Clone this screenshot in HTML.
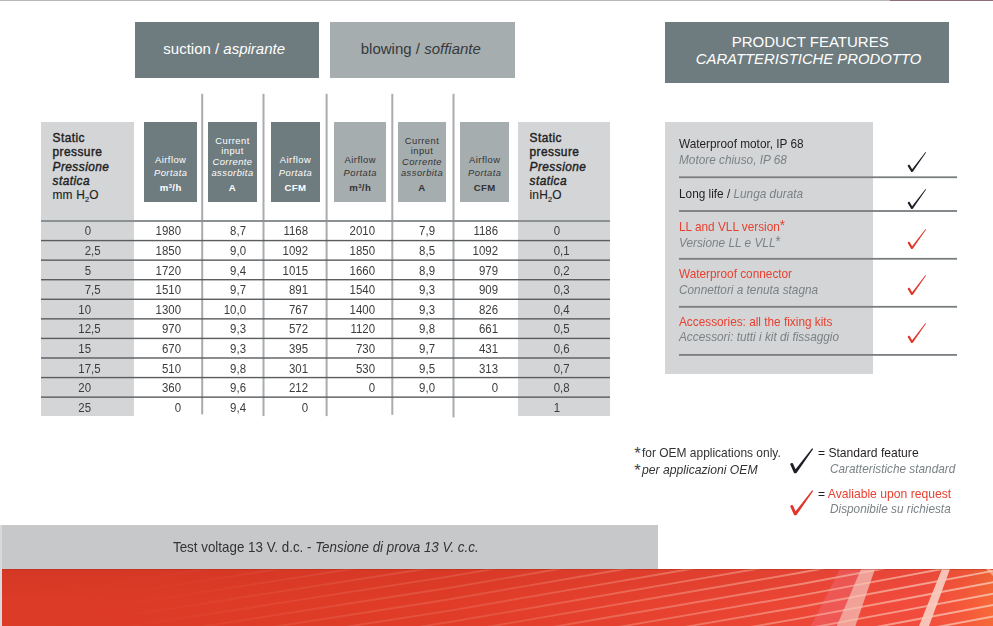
<!DOCTYPE html>
<html><head><meta charset="utf-8"><style>
html,body{margin:0;padding:0;background:#fff;}
body{width:993px;height:626px;position:relative;overflow:hidden;font-family:"Liberation Sans",sans-serif;}
.t{position:absolute;white-space:nowrap;}
.r{position:absolute;}
sup{font-size:0.6em;vertical-align:0;position:relative;top:-0.5em;}
sub{font-size:0.62em;vertical-align:0;position:relative;top:0.42em;}
b{font-weight:bold;}
</style></head><body>
<div class="r" style="left:0px;top:0px;width:890px;height:1px;background:#b6b9bb;"></div>
<div class="r" style="left:890px;top:0px;width:103px;height:1px;background:#8f6e76;"></div>
<div class="r" style="left:135px;top:22px;width:184px;height:56px;background:#6e7c80;"></div>
<div class="r" style="left:330px;top:22px;width:185px;height:56px;background:#a6adaf;"></div>
<div class="t" style="left:74.20px;width:300px;text-align:center;top:41.20px;font-size:15px;line-height:15px;color:#fff;">suction / <i>aspirante</i></div>
<div class="t" style="left:270.80px;width:300px;text-align:center;top:41.20px;font-size:15px;line-height:15px;color:#353a3d;">blowing / <i>soffiante</i></div>
<div class="r" style="left:665px;top:22px;width:283.5px;height:61px;background:#6e7c80;"></div>
<div class="t" style="left:660.20px;width:300px;text-align:center;top:33.80px;font-size:15px;line-height:15px;color:#fff;">PRODUCT FEATURES</div>
<div class="t" style="left:658.50px;width:300px;text-align:center;top:52.03px;font-size:14.85px;line-height:14.85px;color:#fff;"><i>CARATTERISTICHE PRODOTTO</i></div>
<div class="r" style="left:41px;top:122px;width:92.5px;height:294px;background:#d4d5d7;"></div>
<div class="r" style="left:518px;top:122px;width:92px;height:294px;background:#d4d5d7;"></div>
<div class="r" style="left:144.3px;top:122px;width:52.29999999999998px;height:79.5px;background:#6e7c80;"></div>
<div class="t" style="left:140.70px;width:60px;text-align:center;top:154.94px;font-size:9.4px;line-height:9.4px;color:#fff;letter-spacing:0.45px;">Airflow</div>
<div class="t" style="left:140.70px;width:60px;text-align:center;top:167.74px;font-size:9.4px;line-height:9.4px;color:#fff;letter-spacing:0.45px;"><i>Portata</i></div>
<div class="t" style="left:140.70px;width:60px;text-align:center;top:182.87px;font-size:9.6px;line-height:9.6px;color:#fff;letter-spacing:0.45px;"><b>m<sup>3</sup>/h</b></div>
<div class="r" style="left:208px;top:122px;width:48.5px;height:79.5px;background:#6e7c80;"></div>
<div class="t" style="left:202.50px;width:60px;text-align:center;top:136.04px;font-size:9.4px;line-height:9.4px;color:#fff;letter-spacing:0.45px;">Current</div>
<div class="t" style="left:202.50px;width:60px;text-align:center;top:146.04px;font-size:9.4px;line-height:9.4px;color:#fff;letter-spacing:0.45px;">input</div>
<div class="t" style="left:202.50px;width:60px;text-align:center;top:157.24px;font-size:9.4px;line-height:9.4px;color:#fff;letter-spacing:0.45px;"><i>Corrente</i></div>
<div class="t" style="left:202.50px;width:60px;text-align:center;top:167.74px;font-size:9.4px;line-height:9.4px;color:#fff;letter-spacing:0.45px;"><i>assorbita</i></div>
<div class="t" style="left:202.50px;width:60px;text-align:center;top:182.87px;font-size:9.6px;line-height:9.6px;color:#fff;letter-spacing:0.45px;"><b>A</b></div>
<div class="r" style="left:271px;top:122px;width:48.5px;height:79.5px;background:#6e7c80;"></div>
<div class="t" style="left:265.50px;width:60px;text-align:center;top:154.94px;font-size:9.4px;line-height:9.4px;color:#fff;letter-spacing:0.45px;">Airflow</div>
<div class="t" style="left:265.50px;width:60px;text-align:center;top:167.74px;font-size:9.4px;line-height:9.4px;color:#fff;letter-spacing:0.45px;"><i>Portata</i></div>
<div class="t" style="left:265.50px;width:60px;text-align:center;top:182.87px;font-size:9.6px;line-height:9.6px;color:#fff;letter-spacing:0.45px;"><b>CFM</b></div>
<div class="r" style="left:334px;top:122px;width:52px;height:79.5px;background:#a6adaf;"></div>
<div class="t" style="left:330.25px;width:60px;text-align:center;top:154.94px;font-size:9.4px;line-height:9.4px;color:#333;letter-spacing:0.45px;">Airflow</div>
<div class="t" style="left:330.25px;width:60px;text-align:center;top:167.74px;font-size:9.4px;line-height:9.4px;color:#333;letter-spacing:0.45px;"><i>Portata</i></div>
<div class="t" style="left:330.25px;width:60px;text-align:center;top:182.87px;font-size:9.6px;line-height:9.6px;color:#333;letter-spacing:0.45px;"><b>m<sup>3</sup>/h</b></div>
<div class="r" style="left:397.5px;top:122px;width:48.5px;height:79.5px;background:#a6adaf;"></div>
<div class="t" style="left:392.00px;width:60px;text-align:center;top:136.04px;font-size:9.4px;line-height:9.4px;color:#333;letter-spacing:0.45px;">Current</div>
<div class="t" style="left:392.00px;width:60px;text-align:center;top:146.04px;font-size:9.4px;line-height:9.4px;color:#333;letter-spacing:0.45px;">input</div>
<div class="t" style="left:392.00px;width:60px;text-align:center;top:157.24px;font-size:9.4px;line-height:9.4px;color:#333;letter-spacing:0.45px;"><i>Corrente</i></div>
<div class="t" style="left:392.00px;width:60px;text-align:center;top:167.74px;font-size:9.4px;line-height:9.4px;color:#333;letter-spacing:0.45px;"><i>assorbita</i></div>
<div class="t" style="left:392.00px;width:60px;text-align:center;top:182.87px;font-size:9.6px;line-height:9.6px;color:#333;letter-spacing:0.45px;"><b>A</b></div>
<div class="r" style="left:460.2px;top:122px;width:48.60000000000002px;height:79.5px;background:#a6adaf;"></div>
<div class="t" style="left:454.75px;width:60px;text-align:center;top:154.94px;font-size:9.4px;line-height:9.4px;color:#333;letter-spacing:0.45px;">Airflow</div>
<div class="t" style="left:454.75px;width:60px;text-align:center;top:167.74px;font-size:9.4px;line-height:9.4px;color:#333;letter-spacing:0.45px;"><i>Portata</i></div>
<div class="t" style="left:454.75px;width:60px;text-align:center;top:182.87px;font-size:9.6px;line-height:9.6px;color:#333;letter-spacing:0.45px;"><b>CFM</b></div>
<div class="t" style="left:52.50px;top:132.93px;font-size:11.9px;line-height:11.9px;color:#222;-webkit-text-stroke:0.4px #222;letter-spacing:0.45px;">Static</div>
<div class="t" style="left:52.50px;top:147.33px;font-size:11.9px;line-height:11.9px;color:#222;-webkit-text-stroke:0.4px #222;letter-spacing:0.45px;">pressure</div>
<div class="t" style="left:52.50px;top:161.93px;font-size:11.9px;line-height:11.9px;color:#222;-webkit-text-stroke:0.4px #222;letter-spacing:0.45px;font-style:italic;">Pressione</div>
<div class="t" style="left:52.50px;top:176.33px;font-size:11.9px;line-height:11.9px;color:#222;-webkit-text-stroke:0.4px #222;letter-spacing:0.45px;font-style:italic;">statica</div>
<div class="t" style="left:52.50px;top:190.33px;font-size:11.9px;line-height:11.9px;color:#222;-webkit-text-stroke:0.15px #222;letter-spacing:0.2px;">mm H<sub>2</sub>O</div>
<div class="t" style="left:529.50px;top:132.93px;font-size:11.9px;line-height:11.9px;color:#222;-webkit-text-stroke:0.4px #222;letter-spacing:0.45px;">Static</div>
<div class="t" style="left:529.50px;top:147.33px;font-size:11.9px;line-height:11.9px;color:#222;-webkit-text-stroke:0.4px #222;letter-spacing:0.45px;">pressure</div>
<div class="t" style="left:529.50px;top:161.93px;font-size:11.9px;line-height:11.9px;color:#222;-webkit-text-stroke:0.4px #222;letter-spacing:0.45px;font-style:italic;">Pressione</div>
<div class="t" style="left:529.50px;top:176.33px;font-size:11.9px;line-height:11.9px;color:#222;-webkit-text-stroke:0.4px #222;letter-spacing:0.45px;font-style:italic;">statica</div>
<div class="t" style="left:529.50px;top:190.33px;font-size:11.9px;line-height:11.9px;color:#222;-webkit-text-stroke:0.15px #222;letter-spacing:0.2px;">inH<sub>2</sub>O</div>
<svg class="r" style="left:0;top:0" width="993" height="626" viewBox="0 0 993 626">
<rect x="201.2" y="93.8" width="2" height="320.5" fill="#a9abad"/>
<rect x="262.5" y="93.8" width="2" height="322.3" fill="#a9abad"/>
<rect x="325.6" y="93.8" width="2" height="322.3" fill="#a9abad"/>
<rect x="391.3" y="93.8" width="2" height="321.0" fill="#a9abad"/>
<rect x="452.5" y="93.8" width="2" height="323.6" fill="#a9abad"/>
<rect x="41" y="220" width="569" height="2" fill="#8c9194"/>
<rect x="41" y="239.87" width="569" height="1.4" fill="#5a5c5e"/>
<rect x="41" y="259.44" width="569" height="1.4" fill="#5a5c5e"/>
<rect x="41" y="279.01" width="569" height="1.4" fill="#5a5c5e"/>
<rect x="41" y="298.58" width="569" height="1.4" fill="#5a5c5e"/>
<rect x="41" y="318.15" width="569" height="1.4" fill="#5a5c5e"/>
<rect x="41" y="337.72" width="569" height="1.4" fill="#5a5c5e"/>
<rect x="41" y="357.29" width="569" height="1.4" fill="#5a5c5e"/>
<rect x="41" y="376.86" width="569" height="1.4" fill="#5a5c5e"/>
<rect x="41" y="396.43" width="569" height="1.4" fill="#5a5c5e"/>
</svg>
<div class="t" style="left:51.20px;width:40px;text-align:right;top:225.49px;font-size:12.3px;line-height:12.3px;color:#3c3c3c;transform:scaleX(0.93);transform-origin:100% 50%;">0</div>
<div class="t" style="left:140.90px;width:40px;text-align:right;top:225.49px;font-size:12.3px;line-height:12.3px;color:#3c3c3c;transform:scaleX(0.93);transform-origin:100% 50%;">1980</div>
<div class="t" style="left:206.00px;width:40px;text-align:right;top:225.49px;font-size:12.3px;line-height:12.3px;color:#3c3c3c;transform:scaleX(0.93);transform-origin:100% 50%;">8,7</div>
<div class="t" style="left:267.60px;width:40px;text-align:right;top:225.49px;font-size:12.3px;line-height:12.3px;color:#3c3c3c;transform:scaleX(0.93);transform-origin:100% 50%;">1168</div>
<div class="t" style="left:334.60px;width:40px;text-align:right;top:225.49px;font-size:12.3px;line-height:12.3px;color:#3c3c3c;transform:scaleX(0.93);transform-origin:100% 50%;">2010</div>
<div class="t" style="left:394.90px;width:40px;text-align:right;top:225.49px;font-size:12.3px;line-height:12.3px;color:#3c3c3c;transform:scaleX(0.93);transform-origin:100% 50%;">7,9</div>
<div class="t" style="left:458.10px;width:40px;text-align:right;top:225.49px;font-size:12.3px;line-height:12.3px;color:#3c3c3c;transform:scaleX(0.93);transform-origin:100% 50%;">1186</div>
<div class="t" style="left:519.50px;width:40px;text-align:right;top:225.49px;font-size:12.3px;line-height:12.3px;color:#3c3c3c;transform:scaleX(0.93);transform-origin:100% 50%;">0</div>
<div class="t" style="left:51.20px;width:40px;text-align:right;top:245.09px;font-size:12.3px;line-height:12.3px;color:#3c3c3c;transform:scaleX(0.93);transform-origin:100% 50%;">2</div>
<div class="t" style="left:91.20px;top:245.09px;font-size:12.3px;line-height:12.3px;color:#3c3c3c;transform:scaleX(0.93);transform-origin:0% 50%;">,5</div>
<div class="t" style="left:140.90px;width:40px;text-align:right;top:245.09px;font-size:12.3px;line-height:12.3px;color:#3c3c3c;transform:scaleX(0.93);transform-origin:100% 50%;">1850</div>
<div class="t" style="left:206.00px;width:40px;text-align:right;top:245.09px;font-size:12.3px;line-height:12.3px;color:#3c3c3c;transform:scaleX(0.93);transform-origin:100% 50%;">9,0</div>
<div class="t" style="left:267.60px;width:40px;text-align:right;top:245.09px;font-size:12.3px;line-height:12.3px;color:#3c3c3c;transform:scaleX(0.93);transform-origin:100% 50%;">1092</div>
<div class="t" style="left:334.60px;width:40px;text-align:right;top:245.09px;font-size:12.3px;line-height:12.3px;color:#3c3c3c;transform:scaleX(0.93);transform-origin:100% 50%;">1850</div>
<div class="t" style="left:394.90px;width:40px;text-align:right;top:245.09px;font-size:12.3px;line-height:12.3px;color:#3c3c3c;transform:scaleX(0.93);transform-origin:100% 50%;">8,5</div>
<div class="t" style="left:458.10px;width:40px;text-align:right;top:245.09px;font-size:12.3px;line-height:12.3px;color:#3c3c3c;transform:scaleX(0.93);transform-origin:100% 50%;">1092</div>
<div class="t" style="left:519.50px;width:40px;text-align:right;top:245.09px;font-size:12.3px;line-height:12.3px;color:#3c3c3c;transform:scaleX(0.93);transform-origin:100% 50%;">0</div>
<div class="t" style="left:559.50px;top:245.09px;font-size:12.3px;line-height:12.3px;color:#3c3c3c;transform:scaleX(0.93);transform-origin:0% 50%;">,1</div>
<div class="t" style="left:51.20px;width:40px;text-align:right;top:264.69px;font-size:12.3px;line-height:12.3px;color:#3c3c3c;transform:scaleX(0.93);transform-origin:100% 50%;">5</div>
<div class="t" style="left:140.90px;width:40px;text-align:right;top:264.69px;font-size:12.3px;line-height:12.3px;color:#3c3c3c;transform:scaleX(0.93);transform-origin:100% 50%;">1720</div>
<div class="t" style="left:206.00px;width:40px;text-align:right;top:264.69px;font-size:12.3px;line-height:12.3px;color:#3c3c3c;transform:scaleX(0.93);transform-origin:100% 50%;">9,4</div>
<div class="t" style="left:267.60px;width:40px;text-align:right;top:264.69px;font-size:12.3px;line-height:12.3px;color:#3c3c3c;transform:scaleX(0.93);transform-origin:100% 50%;">1015</div>
<div class="t" style="left:334.60px;width:40px;text-align:right;top:264.69px;font-size:12.3px;line-height:12.3px;color:#3c3c3c;transform:scaleX(0.93);transform-origin:100% 50%;">1660</div>
<div class="t" style="left:394.90px;width:40px;text-align:right;top:264.69px;font-size:12.3px;line-height:12.3px;color:#3c3c3c;transform:scaleX(0.93);transform-origin:100% 50%;">8,9</div>
<div class="t" style="left:458.10px;width:40px;text-align:right;top:264.69px;font-size:12.3px;line-height:12.3px;color:#3c3c3c;transform:scaleX(0.93);transform-origin:100% 50%;">979</div>
<div class="t" style="left:519.50px;width:40px;text-align:right;top:264.69px;font-size:12.3px;line-height:12.3px;color:#3c3c3c;transform:scaleX(0.93);transform-origin:100% 50%;">0</div>
<div class="t" style="left:559.50px;top:264.69px;font-size:12.3px;line-height:12.3px;color:#3c3c3c;transform:scaleX(0.93);transform-origin:0% 50%;">,2</div>
<div class="t" style="left:51.20px;width:40px;text-align:right;top:284.29px;font-size:12.3px;line-height:12.3px;color:#3c3c3c;transform:scaleX(0.93);transform-origin:100% 50%;">7</div>
<div class="t" style="left:91.20px;top:284.29px;font-size:12.3px;line-height:12.3px;color:#3c3c3c;transform:scaleX(0.93);transform-origin:0% 50%;">,5</div>
<div class="t" style="left:140.90px;width:40px;text-align:right;top:284.29px;font-size:12.3px;line-height:12.3px;color:#3c3c3c;transform:scaleX(0.93);transform-origin:100% 50%;">1510</div>
<div class="t" style="left:206.00px;width:40px;text-align:right;top:284.29px;font-size:12.3px;line-height:12.3px;color:#3c3c3c;transform:scaleX(0.93);transform-origin:100% 50%;">9,7</div>
<div class="t" style="left:267.60px;width:40px;text-align:right;top:284.29px;font-size:12.3px;line-height:12.3px;color:#3c3c3c;transform:scaleX(0.93);transform-origin:100% 50%;">891</div>
<div class="t" style="left:334.60px;width:40px;text-align:right;top:284.29px;font-size:12.3px;line-height:12.3px;color:#3c3c3c;transform:scaleX(0.93);transform-origin:100% 50%;">1540</div>
<div class="t" style="left:394.90px;width:40px;text-align:right;top:284.29px;font-size:12.3px;line-height:12.3px;color:#3c3c3c;transform:scaleX(0.93);transform-origin:100% 50%;">9,3</div>
<div class="t" style="left:458.10px;width:40px;text-align:right;top:284.29px;font-size:12.3px;line-height:12.3px;color:#3c3c3c;transform:scaleX(0.93);transform-origin:100% 50%;">909</div>
<div class="t" style="left:519.50px;width:40px;text-align:right;top:284.29px;font-size:12.3px;line-height:12.3px;color:#3c3c3c;transform:scaleX(0.93);transform-origin:100% 50%;">0</div>
<div class="t" style="left:559.50px;top:284.29px;font-size:12.3px;line-height:12.3px;color:#3c3c3c;transform:scaleX(0.93);transform-origin:0% 50%;">,3</div>
<div class="t" style="left:51.20px;width:40px;text-align:right;top:303.89px;font-size:12.3px;line-height:12.3px;color:#3c3c3c;transform:scaleX(0.93);transform-origin:100% 50%;">10</div>
<div class="t" style="left:140.90px;width:40px;text-align:right;top:303.89px;font-size:12.3px;line-height:12.3px;color:#3c3c3c;transform:scaleX(0.93);transform-origin:100% 50%;">1300</div>
<div class="t" style="left:206.00px;width:40px;text-align:right;top:303.89px;font-size:12.3px;line-height:12.3px;color:#3c3c3c;transform:scaleX(0.93);transform-origin:100% 50%;">10,0</div>
<div class="t" style="left:267.60px;width:40px;text-align:right;top:303.89px;font-size:12.3px;line-height:12.3px;color:#3c3c3c;transform:scaleX(0.93);transform-origin:100% 50%;">767</div>
<div class="t" style="left:334.60px;width:40px;text-align:right;top:303.89px;font-size:12.3px;line-height:12.3px;color:#3c3c3c;transform:scaleX(0.93);transform-origin:100% 50%;">1400</div>
<div class="t" style="left:394.90px;width:40px;text-align:right;top:303.89px;font-size:12.3px;line-height:12.3px;color:#3c3c3c;transform:scaleX(0.93);transform-origin:100% 50%;">9,3</div>
<div class="t" style="left:458.10px;width:40px;text-align:right;top:303.89px;font-size:12.3px;line-height:12.3px;color:#3c3c3c;transform:scaleX(0.93);transform-origin:100% 50%;">826</div>
<div class="t" style="left:519.50px;width:40px;text-align:right;top:303.89px;font-size:12.3px;line-height:12.3px;color:#3c3c3c;transform:scaleX(0.93);transform-origin:100% 50%;">0</div>
<div class="t" style="left:559.50px;top:303.89px;font-size:12.3px;line-height:12.3px;color:#3c3c3c;transform:scaleX(0.93);transform-origin:0% 50%;">,4</div>
<div class="t" style="left:51.20px;width:40px;text-align:right;top:323.49px;font-size:12.3px;line-height:12.3px;color:#3c3c3c;transform:scaleX(0.93);transform-origin:100% 50%;">12</div>
<div class="t" style="left:91.20px;top:323.49px;font-size:12.3px;line-height:12.3px;color:#3c3c3c;transform:scaleX(0.93);transform-origin:0% 50%;">,5</div>
<div class="t" style="left:140.90px;width:40px;text-align:right;top:323.49px;font-size:12.3px;line-height:12.3px;color:#3c3c3c;transform:scaleX(0.93);transform-origin:100% 50%;">970</div>
<div class="t" style="left:206.00px;width:40px;text-align:right;top:323.49px;font-size:12.3px;line-height:12.3px;color:#3c3c3c;transform:scaleX(0.93);transform-origin:100% 50%;">9,3</div>
<div class="t" style="left:267.60px;width:40px;text-align:right;top:323.49px;font-size:12.3px;line-height:12.3px;color:#3c3c3c;transform:scaleX(0.93);transform-origin:100% 50%;">572</div>
<div class="t" style="left:334.60px;width:40px;text-align:right;top:323.49px;font-size:12.3px;line-height:12.3px;color:#3c3c3c;transform:scaleX(0.93);transform-origin:100% 50%;">1120</div>
<div class="t" style="left:394.90px;width:40px;text-align:right;top:323.49px;font-size:12.3px;line-height:12.3px;color:#3c3c3c;transform:scaleX(0.93);transform-origin:100% 50%;">9,8</div>
<div class="t" style="left:458.10px;width:40px;text-align:right;top:323.49px;font-size:12.3px;line-height:12.3px;color:#3c3c3c;transform:scaleX(0.93);transform-origin:100% 50%;">661</div>
<div class="t" style="left:519.50px;width:40px;text-align:right;top:323.49px;font-size:12.3px;line-height:12.3px;color:#3c3c3c;transform:scaleX(0.93);transform-origin:100% 50%;">0</div>
<div class="t" style="left:559.50px;top:323.49px;font-size:12.3px;line-height:12.3px;color:#3c3c3c;transform:scaleX(0.93);transform-origin:0% 50%;">,5</div>
<div class="t" style="left:51.20px;width:40px;text-align:right;top:343.09px;font-size:12.3px;line-height:12.3px;color:#3c3c3c;transform:scaleX(0.93);transform-origin:100% 50%;">15</div>
<div class="t" style="left:140.90px;width:40px;text-align:right;top:343.09px;font-size:12.3px;line-height:12.3px;color:#3c3c3c;transform:scaleX(0.93);transform-origin:100% 50%;">670</div>
<div class="t" style="left:206.00px;width:40px;text-align:right;top:343.09px;font-size:12.3px;line-height:12.3px;color:#3c3c3c;transform:scaleX(0.93);transform-origin:100% 50%;">9,3</div>
<div class="t" style="left:267.60px;width:40px;text-align:right;top:343.09px;font-size:12.3px;line-height:12.3px;color:#3c3c3c;transform:scaleX(0.93);transform-origin:100% 50%;">395</div>
<div class="t" style="left:334.60px;width:40px;text-align:right;top:343.09px;font-size:12.3px;line-height:12.3px;color:#3c3c3c;transform:scaleX(0.93);transform-origin:100% 50%;">730</div>
<div class="t" style="left:394.90px;width:40px;text-align:right;top:343.09px;font-size:12.3px;line-height:12.3px;color:#3c3c3c;transform:scaleX(0.93);transform-origin:100% 50%;">9,7</div>
<div class="t" style="left:458.10px;width:40px;text-align:right;top:343.09px;font-size:12.3px;line-height:12.3px;color:#3c3c3c;transform:scaleX(0.93);transform-origin:100% 50%;">431</div>
<div class="t" style="left:519.50px;width:40px;text-align:right;top:343.09px;font-size:12.3px;line-height:12.3px;color:#3c3c3c;transform:scaleX(0.93);transform-origin:100% 50%;">0</div>
<div class="t" style="left:559.50px;top:343.09px;font-size:12.3px;line-height:12.3px;color:#3c3c3c;transform:scaleX(0.93);transform-origin:0% 50%;">,6</div>
<div class="t" style="left:51.20px;width:40px;text-align:right;top:362.69px;font-size:12.3px;line-height:12.3px;color:#3c3c3c;transform:scaleX(0.93);transform-origin:100% 50%;">17</div>
<div class="t" style="left:91.20px;top:362.69px;font-size:12.3px;line-height:12.3px;color:#3c3c3c;transform:scaleX(0.93);transform-origin:0% 50%;">,5</div>
<div class="t" style="left:140.90px;width:40px;text-align:right;top:362.69px;font-size:12.3px;line-height:12.3px;color:#3c3c3c;transform:scaleX(0.93);transform-origin:100% 50%;">510</div>
<div class="t" style="left:206.00px;width:40px;text-align:right;top:362.69px;font-size:12.3px;line-height:12.3px;color:#3c3c3c;transform:scaleX(0.93);transform-origin:100% 50%;">9,8</div>
<div class="t" style="left:267.60px;width:40px;text-align:right;top:362.69px;font-size:12.3px;line-height:12.3px;color:#3c3c3c;transform:scaleX(0.93);transform-origin:100% 50%;">301</div>
<div class="t" style="left:334.60px;width:40px;text-align:right;top:362.69px;font-size:12.3px;line-height:12.3px;color:#3c3c3c;transform:scaleX(0.93);transform-origin:100% 50%;">530</div>
<div class="t" style="left:394.90px;width:40px;text-align:right;top:362.69px;font-size:12.3px;line-height:12.3px;color:#3c3c3c;transform:scaleX(0.93);transform-origin:100% 50%;">9,5</div>
<div class="t" style="left:458.10px;width:40px;text-align:right;top:362.69px;font-size:12.3px;line-height:12.3px;color:#3c3c3c;transform:scaleX(0.93);transform-origin:100% 50%;">313</div>
<div class="t" style="left:519.50px;width:40px;text-align:right;top:362.69px;font-size:12.3px;line-height:12.3px;color:#3c3c3c;transform:scaleX(0.93);transform-origin:100% 50%;">0</div>
<div class="t" style="left:559.50px;top:362.69px;font-size:12.3px;line-height:12.3px;color:#3c3c3c;transform:scaleX(0.93);transform-origin:0% 50%;">,7</div>
<div class="t" style="left:51.20px;width:40px;text-align:right;top:382.29px;font-size:12.3px;line-height:12.3px;color:#3c3c3c;transform:scaleX(0.93);transform-origin:100% 50%;">20</div>
<div class="t" style="left:140.90px;width:40px;text-align:right;top:382.29px;font-size:12.3px;line-height:12.3px;color:#3c3c3c;transform:scaleX(0.93);transform-origin:100% 50%;">360</div>
<div class="t" style="left:206.00px;width:40px;text-align:right;top:382.29px;font-size:12.3px;line-height:12.3px;color:#3c3c3c;transform:scaleX(0.93);transform-origin:100% 50%;">9,6</div>
<div class="t" style="left:267.60px;width:40px;text-align:right;top:382.29px;font-size:12.3px;line-height:12.3px;color:#3c3c3c;transform:scaleX(0.93);transform-origin:100% 50%;">212</div>
<div class="t" style="left:334.60px;width:40px;text-align:right;top:382.29px;font-size:12.3px;line-height:12.3px;color:#3c3c3c;transform:scaleX(0.93);transform-origin:100% 50%;">0</div>
<div class="t" style="left:394.90px;width:40px;text-align:right;top:382.29px;font-size:12.3px;line-height:12.3px;color:#3c3c3c;transform:scaleX(0.93);transform-origin:100% 50%;">9,0</div>
<div class="t" style="left:458.10px;width:40px;text-align:right;top:382.29px;font-size:12.3px;line-height:12.3px;color:#3c3c3c;transform:scaleX(0.93);transform-origin:100% 50%;">0</div>
<div class="t" style="left:519.50px;width:40px;text-align:right;top:382.29px;font-size:12.3px;line-height:12.3px;color:#3c3c3c;transform:scaleX(0.93);transform-origin:100% 50%;">0</div>
<div class="t" style="left:559.50px;top:382.29px;font-size:12.3px;line-height:12.3px;color:#3c3c3c;transform:scaleX(0.93);transform-origin:0% 50%;">,8</div>
<div class="t" style="left:51.20px;width:40px;text-align:right;top:401.89px;font-size:12.3px;line-height:12.3px;color:#3c3c3c;transform:scaleX(0.93);transform-origin:100% 50%;">25</div>
<div class="t" style="left:140.90px;width:40px;text-align:right;top:401.89px;font-size:12.3px;line-height:12.3px;color:#3c3c3c;transform:scaleX(0.93);transform-origin:100% 50%;">0</div>
<div class="t" style="left:206.00px;width:40px;text-align:right;top:401.89px;font-size:12.3px;line-height:12.3px;color:#3c3c3c;transform:scaleX(0.93);transform-origin:100% 50%;">9,4</div>
<div class="t" style="left:267.60px;width:40px;text-align:right;top:401.89px;font-size:12.3px;line-height:12.3px;color:#3c3c3c;transform:scaleX(0.93);transform-origin:100% 50%;">0</div>
<div class="t" style="left:519.50px;width:40px;text-align:right;top:401.89px;font-size:12.3px;line-height:12.3px;color:#3c3c3c;transform:scaleX(0.93);transform-origin:100% 50%;">1</div>
<div class="r" style="left:665px;top:122px;width:208px;height:252px;background:#d4d5d7;"></div>
<svg class="r" style="left:0;top:0" width="993" height="626"><rect x="679" y="176.35" width="278" height="1.8" fill="#7b7e81"/><rect x="679" y="210.10" width="278" height="1.8" fill="#7b7e81"/><rect x="679" y="257.90" width="278" height="1.8" fill="#7b7e81"/><rect x="679" y="305.90" width="278" height="1.8" fill="#7b7e81"/><rect x="679" y="354.00" width="278" height="1.8" fill="#7b7e81"/></svg>
<div class="t" style="left:679.30px;top:137.13px;font-size:13.2px;line-height:13.2px;color:#231f20;transform:scaleX(0.895);transform-origin:0 50%;">Waterproof motor, IP 68</div>
<div class="t" style="left:679.30px;top:152.93px;font-size:13.2px;line-height:13.2px;color:#7a8286;transform:scaleX(0.895);transform-origin:0 50%;"><i>Motore chiuso, IP 68</i></div>
<div class="t" style="left:679.30px;top:187.33px;font-size:13.2px;line-height:13.2px;color:#231f20;transform:scaleX(0.895);transform-origin:0 50%;">Long life / <i style="color:#7a8286">Lunga durata</i></div>
<div class="t" style="left:679.30px;top:219.23px;font-size:13.2px;line-height:13.2px;color:#e8402f;transform:scaleX(0.895);transform-origin:0 50%;">LL and VLL version<span style="font-size:15px;position:relative;top:-1px">*</span></div>
<div class="t" style="left:679.30px;top:235.23px;font-size:13.2px;line-height:13.2px;color:#7a8286;transform:scaleX(0.895);transform-origin:0 50%;"><i>Versione LL e VLL</i><span style="font-size:15px;position:relative;top:-1px">*</span></div>
<div class="t" style="left:679.30px;top:266.93px;font-size:13.2px;line-height:13.2px;color:#e8402f;transform:scaleX(0.895);transform-origin:0 50%;">Waterproof connector</div>
<div class="t" style="left:679.30px;top:282.63px;font-size:13.2px;line-height:13.2px;color:#7a8286;transform:scaleX(0.895);transform-origin:0 50%;"><i>Connettori a tenuta stagna</i></div>
<div class="t" style="left:679.30px;top:314.63px;font-size:13.2px;line-height:13.2px;color:#e8402f;transform:scaleX(0.895);transform-origin:0 50%;">Accessories: all the fixing kits</div>
<div class="t" style="left:679.30px;top:330.43px;font-size:13.2px;line-height:13.2px;color:#7a8286;transform:scaleX(0.895);transform-origin:0 50%;"><i>Accessori: tutti i kit di fissaggio</i></div>
<svg class="r" style="left:907px;top:151px" width="20.00" height="22.00" viewBox="0 0 20 22"><path d="M0.69 14.93 Q0.99 13.36 2.51 13.87 L5.12 18.33 L18.52 1.09 L19.08 1.51 L5.81 20.79 L5.10 21.10 L4.25 20.99 Z" fill="#1e1e26"/></svg>
<svg class="r" style="left:907px;top:187.8px" width="20.00" height="22.00" viewBox="0 0 20 22"><path d="M0.69 14.93 Q0.99 13.36 2.51 13.87 L5.12 18.33 L18.52 1.09 L19.08 1.51 L5.81 20.79 L5.10 21.10 L4.25 20.99 Z" fill="#1e1e26"/></svg>
<svg class="r" style="left:907px;top:228px" width="20.00" height="22.00" viewBox="0 0 20 22"><path d="M0.69 14.93 Q0.99 13.36 2.51 13.87 L5.12 18.33 L18.52 1.09 L19.08 1.51 L5.81 20.79 L5.10 21.10 L4.25 20.99 Z" fill="#e0362c"/></svg>
<svg class="r" style="left:907px;top:273.8px" width="20.00" height="22.00" viewBox="0 0 20 22"><path d="M0.69 14.93 Q0.99 13.36 2.51 13.87 L5.12 18.33 L18.52 1.09 L19.08 1.51 L5.81 20.79 L5.10 21.10 L4.25 20.99 Z" fill="#e0362c"/></svg>
<svg class="r" style="left:907px;top:321.6px" width="20.00" height="22.00" viewBox="0 0 20 22"><path d="M0.69 14.93 Q0.99 13.36 2.51 13.87 L5.12 18.33 L18.52 1.09 L19.08 1.51 L5.81 20.79 L5.10 21.10 L4.25 20.99 Z" fill="#e0362c"/></svg>
<div class="t" style="left:634.30px;top:444.53px;font-size:16.5px;line-height:16.5px;color:#444;">*</div>
<div class="t" style="left:642.30px;top:446.33px;font-size:13.2px;line-height:13.2px;color:#333;transform:scaleX(0.907);transform-origin:0 50%;">for OEM applications only.</div>
<div class="t" style="left:634.30px;top:462.03px;font-size:16.5px;line-height:16.5px;color:#444;">*</div>
<div class="t" style="left:642.30px;top:463.43px;font-size:13.2px;line-height:13.2px;color:#333;transform:scaleX(0.922);transform-origin:0 50%;"><i>per applicazioni OEM</i></div>
<svg class="r" style="left:789px;top:447.3px" width="25.20" height="27.72" viewBox="0 0 20 22"><path d="M0.95 13.77 Q1.51 12.20 3.05 12.83 L5.22 17.68 L18.40 1.00 L19.20 1.60 L5.97 20.71 L5.10 20.90 L4.07 20.74 Z" fill="#1e1e26"/></svg>
<svg class="r" style="left:789px;top:488.6px" width="25.20" height="27.72" viewBox="0 0 20 22"><path d="M0.95 13.77 Q1.51 12.20 3.05 12.83 L5.22 17.68 L18.40 1.00 L19.20 1.60 L5.97 20.71 L5.10 20.90 L4.07 20.74 Z" fill="#e0362c"/></svg>
<div class="t" style="left:817.60px;top:446.33px;font-size:13.2px;line-height:13.2px;color:#231f20;transform:scaleX(0.918);transform-origin:0 50%;">= Standard feature</div>
<div class="t" style="left:830.40px;top:461.63px;font-size:13.2px;line-height:13.2px;color:#7a8286;transform:scaleX(0.895);transform-origin:0 50%;"><i>Caratteristiche standard</i></div>
<div class="t" style="left:817.60px;top:487.13px;font-size:13.2px;line-height:13.2px;color:#231f20;transform:scaleX(0.921);transform-origin:0 50%;">= <span style="color:#e8402f">Avaliable upon request</span></div>
<div class="t" style="left:830.40px;top:502.33px;font-size:13.2px;line-height:13.2px;color:#7a8286;transform:scaleX(0.895);transform-origin:0 50%;"><i>Disponibile su richiesta</i></div>
<div class="r" style="left:0px;top:524.5px;width:658px;height:44.5px;background:#c7c8ca;"></div>
<div class="r" style="left:0px;top:524.5px;width:2px;height:102px;background:#d8d9dc;"></div>
<div class="t" style="left:173.00px;top:540.10px;font-size:14.3px;line-height:14.3px;color:#333;transform:scaleX(0.935);transform-origin:0 50%;">Test voltage 13 V. d.c. - <i>Tensione di prova 13 V. c.c.</i></div>
<svg class="r" style="left:2px;top:569px" width="991" height="57" viewBox="0 0 991 57">
<defs>
<linearGradient id="g" x1="0" y1="0" x2="991" y2="0" gradientUnits="userSpaceOnUse">
<stop offset="0" stop-color="#dc3b27"/><stop offset="0.45" stop-color="#e03c28"/><stop offset="0.75" stop-color="#ea4433"/><stop offset="0.93" stop-color="#f24c3e"/><stop offset="0.97" stop-color="#f5583a"/><stop offset="1" stop-color="#f76a38"/></linearGradient>
<linearGradient id="lg" x1="0" y1="0" x2="991" y2="0" gradientUnits="userSpaceOnUse">
<stop offset="0" stop-color="#f7b8a0" stop-opacity="0"/><stop offset="0.25" stop-color="#f7b8a0" stop-opacity="0.16"/><stop offset="0.5" stop-color="#f7b8a0" stop-opacity="0.2"/><stop offset="0.75" stop-color="#f8c0ac" stop-opacity="0.45"/><stop offset="1" stop-color="#fad0c0" stop-opacity="0.75"/></linearGradient>
<linearGradient id="vg" x1="0" y1="0" x2="0" y2="1"><stop offset="0" stop-color="#8a1a10" stop-opacity="0.10"/><stop offset="0.6" stop-color="#8a1a10" stop-opacity="0"/></linearGradient>
<linearGradient id="mg" x1="60" y1="-20" x2="360" y2="110" gradientUnits="userSpaceOnUse"><stop offset="0" stop-color="#000"/><stop offset="0.45" stop-color="#555"/><stop offset="1" stop-color="#fff"/></linearGradient>
<mask id="mk" maskUnits="userSpaceOnUse" x="0" y="0" width="991" height="57"><rect width="991" height="57" fill="url(#mg)"/></mask>
<radialGradient id="og" cx="991" cy="10" r="45" gradientUnits="userSpaceOnUse"><stop offset="0" stop-color="#f47a35" stop-opacity="0.75"/><stop offset="1" stop-color="#f7803a" stop-opacity="0"/></radialGradient>
</defs>
<rect width="991" height="57" fill="url(#g)"/>
<rect width="991" height="57" fill="url(#vg)"/>
<polygon points="838,0 859,0 835,57 809,57" fill="#f06a78" fill-opacity="0.45"/>
<polygon points="859,0 873,0 853.4,57 834.8,57" fill="#f2b0a8" fill-opacity="0.85"/>
<polygon points="940,0 948,0 927,57 917,57" fill="#f8d8cc" fill-opacity="0.85"/>
<g stroke="url(#lg)" stroke-width="1.9" fill="none" mask="url(#mk)">
<polyline points="-6,-1.50 213,-35.70 288,-47.40 448,-72.40 598,-98.40 668,-110.50 798,-133.00 898,-151.70 993,-169.50"/>
<polyline points="-6,9.90 213,-24.30 288,-36.00 448,-61.00 598,-87.00 668,-99.10 798,-121.60 898,-140.30 993,-158.10"/>
<polyline points="-6,21.30 213,-12.90 288,-24.60 448,-49.60 598,-75.60 668,-87.70 798,-110.20 898,-128.90 993,-146.70"/>
<polyline points="-6,32.70 213,-1.50 288,-13.20 448,-38.20 598,-64.20 668,-76.30 798,-98.80 898,-117.50 993,-135.30"/>
<polyline points="-6,44.10 213,9.90 288,-1.80 448,-26.80 598,-52.80 668,-64.90 798,-87.40 898,-106.10 993,-123.90"/>
<polyline points="-6,55.50 213,21.30 288,9.60 448,-15.40 598,-41.40 668,-53.50 798,-76.00 898,-94.70 993,-112.50"/>
<polyline points="-6,66.90 213,32.70 288,21.00 448,-4.00 598,-30.00 668,-42.10 798,-64.60 898,-83.30 993,-101.10"/>
<polyline points="-6,78.30 213,44.10 288,32.40 448,7.40 598,-18.60 668,-30.70 798,-53.20 898,-71.90 993,-89.70"/>
<polyline points="-6,89.70 213,55.50 288,43.80 448,18.80 598,-7.20 668,-19.30 798,-41.80 898,-60.50 993,-78.30"/>
<polyline points="-6,101.10 213,66.90 288,55.20 448,30.20 598,4.20 668,-7.90 798,-30.40 898,-49.10 993,-66.90"/>
<polyline points="-6,112.50 213,78.30 288,66.60 448,41.60 598,15.60 668,3.50 798,-19.00 898,-37.70 993,-55.50"/>
<polyline points="-6,123.90 213,89.70 288,78.00 448,53.00 598,27.00 668,14.90 798,-7.60 898,-26.30 993,-44.10"/>
<polyline points="-6,135.30 213,101.10 288,89.40 448,64.40 598,38.40 668,26.30 798,3.80 898,-14.90 993,-32.70"/>
<polyline points="-6,146.70 213,112.50 288,100.80 448,75.80 598,49.80 668,37.70 798,15.20 898,-3.50 993,-21.30"/>
<polyline points="-6,158.10 213,123.90 288,112.20 448,87.20 598,61.20 668,49.10 798,26.60 898,7.90 993,-9.90"/>
<polyline points="-6,169.50 213,135.30 288,123.60 448,98.60 598,72.60 668,60.50 798,38.00 898,19.30 993,1.50"/>
<polyline points="-6,180.90 213,146.70 288,135.00 448,110.00 598,84.00 668,71.90 798,49.40 898,30.70 993,12.90"/>
<polyline points="-6,192.30 213,158.10 288,146.40 448,121.40 598,95.40 668,83.30 798,60.80 898,42.10 993,24.30"/>
<polyline points="-6,203.70 213,169.50 288,157.80 448,132.80 598,106.80 668,94.70 798,72.20 898,53.50 993,35.70"/>
<polyline points="-6,215.10 213,180.90 288,169.20 448,144.20 598,118.20 668,106.10 798,83.60 898,64.90 993,47.10"/>
<polyline points="-6,226.50 213,192.30 288,180.60 448,155.60 598,129.60 668,117.50 798,95.00 898,76.30 993,58.50"/>
</g>
<rect width="991" height="1" fill="#a02818" fill-opacity="0.35"/>
<polygon points="984,0 988,0 991,3 991,7" fill="#fbd0b0" fill-opacity="0.6"/>
</svg>
</body></html>
